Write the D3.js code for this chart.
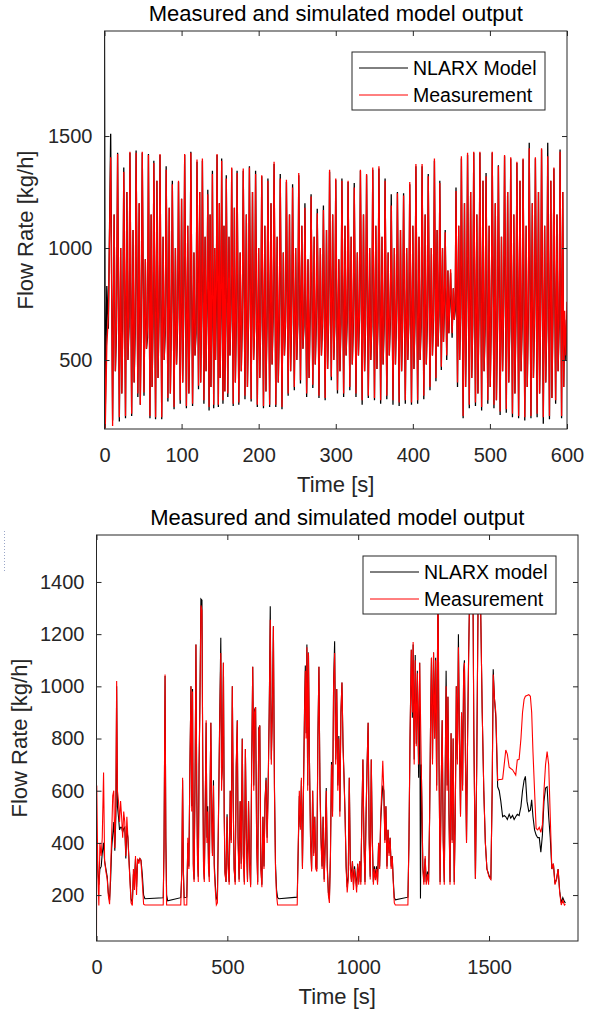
<!DOCTYPE html>
<html>
<head>
<meta charset="utf-8">
<script src="https://cdn.jsdelivr.net/npm/d3@7"></script>
<style>
  body { margin: 0; background: #fff; }
  svg { display: block; }
  text { font-family: "Liberation Sans", Arial, Helvetica, sans-serif; }
</style>
</head>
<body>
<svg id="chart" width="603" height="1012"></svg>
<script>
// ---- Panel 1: 600 s run, oscillating flow ----
const topStartT = [0, 1, 3, 5];
const topStartMeas = [610, 195, 560, 700];
const topStartModel = [1960, 260, 830, 640];

// time of each pulse peak [s]
const topPeakT = [8,17,25,33,41,49,57,64,72,80,88,96,104,112,120,127,134,140,146,152,
  158,165,172,180,188,196,204,212,220,228,236,244,252,260,268,276,284,292,300,308,
  316,324,332,340,348,356,364,372,380,388,396,404,412,420,428,435,442,449,456,463,
  471,479,487,495,503,511,519,527,535,543,551,559,567,575,583,591];

const measPeak = [1405,1420,1340,1430,1425,1430,1415,1380,1420,1350,
  1285,1300,1420,1425,1395,1400,1240,1330,1420,1390,
  1310,1360,1335,1355,1360,1330,1325,1300,1385,1310,
  1305,1270,1335,1180,1230,1155,1170,1350,1310,1300,
  1300,1270,1350,1330,1360,1365,1300,1190,1245,1235,
  1295,1375,1375,1320,1400,1290,1070,905,1255,1410,
  1425,1430,1430,1320,1430,1365,1415,1405,1385,1400,
  1445,1405,1445,1410,1360,1430];
const measLow = [205,245,250,260,350,355,250,245,245,330,
  290,320,295,305,385,320,290,300,300,320,
  350,305,310,340,325,300,295,300,300,290,
  350,380,410,350,390,340,330,425,365,350,
  380,350,320,340,330,320,340,320,310,320,
  310,320,340,380,420,470,520,620,400,250,
  300,310,290,320,300,270,280,260,250,245,
  250,260,245,250,320,250];
const measBase = [700,640,720,680,760,650,700,740,660,720,
  690,750,700,660,720,780,700,820,760,700,
  740,680,720,700,660,720,690,740,700,680,
  720,700,680,740,700,690,720,680,700,710,
  690,720,700,680,710,690,700,720,680,700,
  710,690,700,720,740,760,780,760,740,720,
  700,740,680,720,700,760,690,720,700,740,
  700,720,690,740,700,720];

const modelPeak = [1510,1425,1360,1425,1435,1425,1420,1390,1415,1365,
  1300,1295,1415,1430,1385,1390,1260,1345,1415,1400,
  1325,1355,1345,1345,1365,1345,1320,1310,1375,1330,
  1295,1285,1325,1200,1240,1175,1190,1340,1305,1310,
  1295,1290,1345,1325,1350,1355,1310,1240,1250,1245,
  1285,1365,1365,1330,1390,1300,1080,890,1270,1400,
  1415,1425,1425,1335,1425,1370,1410,1400,1380,1395,
  1470,1400,1440,1470,1355,1440];
const modelLow = [230,225,240,250,335,340,240,235,235,315,
  280,305,285,295,370,305,275,285,290,305,
  335,295,300,325,315,290,285,290,290,280,
  340,365,395,335,375,330,320,410,350,335,
  365,335,300,330,320,305,325,300,295,305,
  300,305,325,365,405,455,500,600,380,240,
  285,295,275,305,285,255,265,245,240,230,
  240,245,215,235,305,240];
const modelBase = [640,700,650,620,720,600,650,700,620,680,
  640,700,650,620,690,730,650,760,700,660,
  680,650,670,660,640,670,650,690,660,650,
  670,660,650,690,660,650,670,650,660,670,
  650,680,660,650,670,650,660,680,650,660,
  670,650,660,680,700,720,740,720,690,680,
  660,690,640,680,650,700,640,680,650,690,
  650,680,640,690,650,680];

// secondary (smaller) swing inside every pulse, seen in both traces
const spikeHi = [1150,1000,1250,1080,1200,950,1150,1300,1050,1180,
  1000,1220,1100,980,1250,1050,1150,1000,1200,1100,
  1050,1180,980,1150,1250,1000,1100,1200,1050,980,
  1150,1000,1100,950,1050,1000,1080,1150,950,1100,
  1050,980,1150,1000,1100,1050,980,1000,1080,1000,
  1100,1050,1150,1000,1080,1000,900,820,1100,1200,
  1250,1150,1300,1100,1200,1050,1250,1150,1300,1100,
  1200,1250,1100,1300,1150,1250];
const spikeLo = [450,350,500,400,300,550,380,420,500,350,
  480,400,350,520,400,450,380,500,420,360,
  520,400,450,380,500,420,360,480,400,520,
  450,500,550,420,480,520,460,500,450,520,
  480,520,450,500,460,480,520,480,450,500,
  460,500,480,520,560,580,620,680,500,380,
  420,350,450,380,320,450,400,350,450,380,
  420,350,400,330,450,380];

const topEndT = [598.5, 600];
const topEndMeas = [520, 760];
const topEndModel = [500, 700];

const topXTicks = [0, 100, 200, 300, 400, 500, 600];
const topYTicks = [500, 1000, 1500];

// ---- Panel 2: 1800 s run ----
const botT = [0,1,5,9,13,18,22,27,31,36,
  41,45,50,54,58,62,66,70,74,77,
  80,84,88,92,96,100,104,108,112,116,
  120,124,128,132,137,141,145,149,153,157,
  162,166,170,175,180,185,255,258,262,265,
  268,272,322,326,329,332,335,345,349,353,
  357,361,364,367,370,373,377,380,383,386,
  389,392,395,399,403,406,409,412,416,419,
  422,425,428,431,434,437,440,443,447,450,
  454,458,462,466,470,475,478,481,485,488,
  491,495,499,503,507,511,515,519,523,526,
  530,534,538,541,545,549,553,557,561,565,
  569,573,577,581,585,589,593,597,601,604,
  608,612,616,620,624,628,632,636,640,644,
  648,652,656,660,664,668,672,676,680,684,
  688,692,697,767,771,775,779,783,787,791,
  795,798,801,804,807,810,814,818,822,826,
  830,834,838,842,846,850,854,858,862,866,
  870,874,878,882,886,890,894,898,902,906,
  910,914,918,922,926,930,934,938,942,946,
  950,954,958,962,966,970,974,978,982,986,
  990,994,998,1002,1006,1010,1014,1018,1022,1026,
  1030,1034,1038,1042,1046,1050,1054,1058,1062,1066,
  1070,1074,1078,1082,1086,1090,1094,1098,1102,1106,
  1110,1114,1118,1122,1126,1130,1134,1138,1142,1190,
  1194,1198,1203,1207,1210,1214,1218,1222,1226,1231,
  1235,1238,1241,1244,1247,1251,1256,1260,1265,1269,
  1273,1277,1280,1284,1288,1292,1296,1300,1305,1309,
  1313,1317,1321,1325,1329,1333,1336,1340,1343,1347,
  1351,1355,1359,1363,1367,1371,1375,1379,1383,1387,
  1391,1395,1399,1403,1406,1410,1414,1418,1422,1425,
  1432,1438,1442,1448,1453,1458,1463,1468,1474,1480,
  1486,1492,1500,1507,1512,1516,1521,1526,1533,1539,
  1545,1552,1558,1564,1570,1577,1583,1590,1596,1602,
  1608,1615,1622,1628,1634,1639,1645,1652,1658,1663,
  1668,1674,1680,1686,1692,1698,1704,1710,1716,1722,
  1728,1734,1740,1746,1752,1758,1764,1770,1776,1782,
  1788,1792];

const botMeas = [24,620,300,160,400,350,420,670,330,290,
  260,200,165,300,430,580,600,380,560,1020,
  600,560,480,560,500,420,520,480,350,500,
  420,330,250,170,160,300,220,350,200,340,
  320,340,330,250,165,162,162,400,1045,400,
  162,162,162,300,650,300,162,162,420,300,
  700,1000,520,980,300,250,700,1160,600,330,
  250,700,900,1310,1290,700,300,250,600,870,
  400,520,300,250,600,860,500,350,620,300,
  220,162,170,500,800,1128,600,700,1090,500,
  280,250,500,300,240,600,400,1000,500,300,
  240,700,868,400,250,560,300,798,350,240,
  760,400,250,560,320,230,700,1075,600,900,
  920,400,240,830,850,300,230,500,300,560,
  640,400,600,900,1255,700,900,1230,600,300,
  200,162,162,162,400,600,450,650,300,600,
  900,1060,800,1150,600,1128,700,400,290,600,
  350,500,300,290,800,1075,600,400,300,500,
  250,400,600,300,200,170,350,700,500,1000,
  1128,700,990,600,800,500,900,1015,770,643,
  500,300,210,260,650,300,250,330,220,300,
  260,210,320,240,330,240,500,720,400,240,
  500,700,860,400,260,720,400,240,300,257,
  300,240,400,300,500,600,715,600,400,540,
  300,450,350,420,300,350,250,170,162,162,
  415,800,1140,900,1170,700,1100,770,1050,700,
  1090,900,700,500,300,240,350,240,280,240,
  500,900,1110,700,1130,800,1100,600,1450,700,
  240,600,870,400,240,700,1000,600,960,500,
  240,820,400,800,240,500,1000,700,1150,800,
  500,900,600,1050,1090,700,400,800,1100,1300,
  1460,1470,800,263,700,1300,1470,1300,900,600,
  400,300,270,260,600,1045,950,900,640,643,
  643,645,700,756,740,690,685,680,670,660,
  718,720,800,900,950,962,965,968,962,900,
  747,600,455,450,460,440,470,600,700,750,
  700,500,300,320,240,260,300,210,162,180,
  162,165];

const botModel = [380,400,300,240,300,310,360,400,330,300,
  270,210,180,260,380,430,480,370,500,1000,
  540,500,450,460,460,440,455,460,340,450,
  420,340,260,185,170,280,255,340,230,330,
  335,340,335,280,200,186,190,380,1040,420,
  200,178,190,280,640,290,190,192,400,310,
  690,1000,540,990,320,260,690,1160,620,350,
  270,700,930,1335,1330,720,320,260,580,860,
  420,540,320,270,610,860,520,360,640,320,
  240,185,190,480,820,1186,640,690,1090,520,
  290,250,510,320,250,600,410,1000,520,300,
  250,690,870,420,260,560,320,800,360,250,
  760,420,260,560,330,240,700,1075,620,910,
  920,410,250,840,850,310,240,500,310,565,
  650,420,620,900,1307,720,900,1230,620,320,
  220,190,186,192,380,580,460,640,310,610,
  920,1080,820,1160,620,1130,700,410,300,600,
  360,500,310,300,800,1075,620,420,310,500,
  260,400,610,310,210,185,350,710,520,1010,
  1173,720,990,620,810,520,900,1015,780,650,
  500,310,230,270,650,320,260,330,240,310,
  270,230,320,250,330,250,500,720,410,250,
  500,700,860,420,270,720,420,250,310,265,
  310,250,400,310,480,560,620,600,410,540,
  310,450,360,420,310,350,260,190,182,192,
  400,790,1140,880,1160,720,1120,780,1060,650,
  1090,187,700,520,310,250,340,250,290,250,
  500,900,1110,720,1130,800,1110,620,1440,700,
  250,600,870,410,250,720,1060,620,960,510,
  250,820,410,800,250,500,1000,720,1200,800,
  510,900,620,1060,1100,720,410,800,1120,1300,
  1460,1470,820,263,700,1310,1470,1300,900,600,
  400,300,275,260,600,1065,950,880,615,600,
  560,500,505,500,490,510,495,505,490,500,
  510,505,540,600,640,655,560,520,525,565,
  500,450,430,420,420,364,430,560,610,615,
  500,420,300,320,245,260,300,215,170,190,
  175,170];

const botXTicks = [0, 500, 1000, 1500];
const botYTicks = [200, 400, 600, 800, 1000, 1200, 1400];

// ---- build the line data for panel 1 ----
// per pulse: peak -> low -> secondary high -> secondary low -> base
function pulses(startV, peak, low, base, endV) {
  const pts = topStartT.map((t, i) => [t, startV[i]]);
  topPeakT.forEach((t, i) => {
    const d = (i < topPeakT.length - 1 ? topPeakT[i + 1] : 598) - t;
    pts.push([t, peak[i]]);
    pts.push([t + 0.28 * d, low[i]]);
    pts.push([t + 0.5 * d, spikeHi[i]]);
    pts.push([t + 0.68 * d, spikeLo[i]]);
    pts.push([t + 0.85 * d, base[i]]);
  });
  topEndT.forEach((t, i) => pts.push([t, endV[i]]));
  return pts;
}
const topMeas = pulses(topStartMeas, measPeak, measLow, measBase, topEndMeas);
const topModel = pulses(topStartModel, modelPeak, modelLow, modelBase, topEndModel);

const svg = d3.select("#chart");
const axisColor = "#262626";

function drawPanel(p) {
  const [xl, xr] = p.x.range();
  const [yb, yt] = p.y.range();
  const g = svg.append("g");

  g.append("clipPath").attr("id", p.id)
    .append("rect")
      .attr("x", xl).attr("y", yt)
      .attr("width", xr - xl).attr("height", yb - yt);

  const line = d3.line().x(d => p.x(d[0])).y(d => p.y(d[1]));

  g.append("path")
    .datum(p.model)
    .attr("clip-path", `url(#${p.id})`)
    .attr("fill", "none")
    .attr("stroke", "#000")
    .attr("stroke-width", p.lw)
    .attr("d", line);

  g.append("path")
    .datum(p.meas)
    .attr("clip-path", `url(#${p.id})`)
    .attr("fill", "none")
    .attr("stroke", "#ff0000")
    .attr("stroke-width", p.lw)
    .attr("d", line);

  // axes, ticks pointing inwards like the original
  const styleAxis = sel => {
    sel.select(".domain").remove();
    sel.selectAll("line").attr("stroke", axisColor);
    sel.selectAll("text")
      .attr("fill", axisColor)
      .style("font-size", "20px");
  };
  const fmt = d3.format("d");

  g.append("g")
    .attr("transform", `translate(0,${yb})`)
    .call(d3.axisBottom(p.x).tickValues(p.xt).tickFormat(fmt)
      .tickSizeInner(-5).tickSizeOuter(0).tickPadding(19))
    .call(styleAxis);
  g.append("g")
    .attr("transform", `translate(0,${yt})`)
    .call(d3.axisTop(p.x).tickValues(p.xt).tickSizeInner(-5).tickSizeOuter(0).tickFormat(() => ""))
    .call(styleAxis);
  g.append("g")
    .attr("transform", `translate(${xl},0)`)
    .call(d3.axisLeft(p.y).tickValues(p.yt).tickFormat(fmt)
      .tickSizeInner(-5).tickSizeOuter(0).tickPadding(12))
    .call(styleAxis);
  g.append("g")
    .attr("transform", `translate(${xr},0)`)
    .call(d3.axisRight(p.y).tickValues(p.yt).tickSizeInner(-5).tickSizeOuter(0).tickFormat(() => ""))
    .call(styleAxis);

  g.append("rect")
    .attr("x", xl).attr("y", yt)
    .attr("width", xr - xl).attr("height", yb - yt)
    .attr("fill", "none")
    .attr("stroke", axisColor)
    .attr("stroke-width", 1);

  // title and axis labels
  const cx = (xl + xr) / 2;
  g.append("text")
    .attr("x", cx).attr("y", yt - 10)
    .attr("text-anchor", "middle")
    .attr("fill", "#000")
    .style("font-size", "22px")
    .text("Measured and simulated model output");

  g.append("text")
    .attr("x", cx).attr("y", yb + 63)
    .attr("text-anchor", "middle")
    .attr("fill", axisColor)
    .style("font-size", "22px")
    .text("Time [s]");

  g.append("text")
    .attr("transform", `translate(${p.ylabX},${(yt + yb) / 2}) rotate(-90)`)
    .attr("text-anchor", "middle")
    .attr("fill", axisColor)
    .style("font-size", "22px")
    .text("Flow Rate [kg/h]");

  // legend (north-east, opaque)
  const lg = g.append("g").attr("transform", `translate(${xr - 215},${yt + 21})`);
  lg.append("rect")
    .attr("width", 193).attr("height", 58)
    .attr("fill", "#fff")
    .attr("stroke", axisColor)
    .attr("stroke-width", 1);
  p.legend.forEach((name, i) => {
    const ly = 16 + i * 27;
    lg.append("line")
      .attr("x1", 7).attr("x2", 56)
      .attr("y1", ly).attr("y2", ly)
      .attr("stroke", i === 0 ? "#000" : "#ff0000")
      .attr("stroke-width", 1);
    lg.append("text")
      .attr("x", 61).attr("y", ly + 7)
      .attr("fill", "#000")
      .style("font-size", "19.5px")
      .text(name);
  });
}

drawPanel({
  id: "clipTop",
  x: d3.scaleLinear().domain([0, 600]).range([104.5, 567]),
  y: d3.scaleLinear().domain([192, 1969]).range([429, 31]),
  xt: topXTicks, yt: topYTicks,
  meas: topMeas, model: topModel,
  lw: 1.3,
  ylabX: 33,
  legend: ["NLARX Model", "Measurement"]
});

drawPanel({
  id: "clipBot",
  x: d3.scaleLinear().domain([0, 1840]).range([96.5, 578]),
  y: d3.scaleLinear().domain([24, 1580]).range([941, 535]),
  xt: botXTicks, yt: botYTicks,
  meas: botT.map((t, i) => [t, botMeas[i]]),
  model: botT.map((t, i) => [t, botModel[i]]),
  lw: 1.1,
  ylabX: 27,
  legend: ["NLARX model", "Measurement"]
});

// faint dotted mark at the left margin of the lower figure
svg.append("line")
  .attr("x1", 4.5).attr("x2", 4.5)
  .attr("y1", 531).attr("y2", 573)
  .attr("stroke", "#9aa6c8")
  .attr("stroke-width", 1)
  .attr("stroke-dasharray", "1,2");
</script>
</body>
</html>
